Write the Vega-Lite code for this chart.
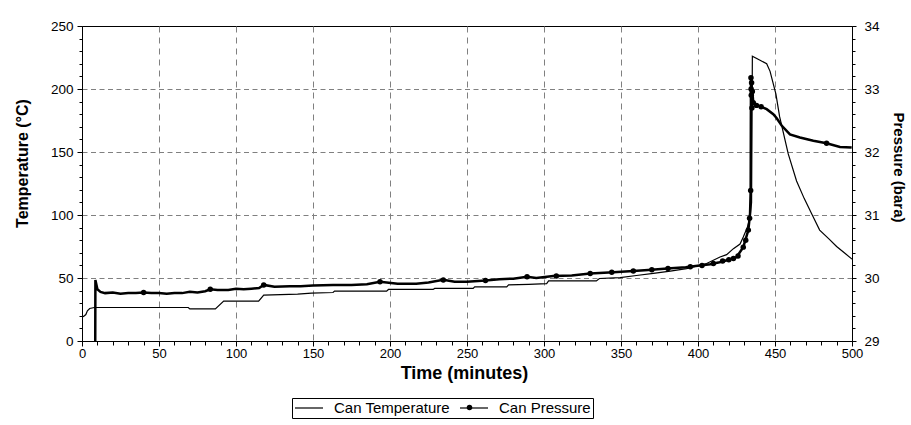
{
  "$schema": "https://vega.github.io/schema/vega-lite/v6.json",
  "width": 770,
  "height": 315,
  "autosize": {"type": "none"},
  "padding": {"left": 82, "top": 26, "right": 59, "bottom": 84},
  "background": "white",
  "config": {
    "view": {"stroke": "black", "strokeWidth": 1},
    "font": "Liberation Sans",
    "axis": {"domainColor": "black", "tickColor": "black", "labelColor": "black", "titleColor": "black", "labelFont": "Liberation Sans", "titleFont": "Liberation Sans"}
  },
  "datasets": {
    "temp": [
      {"time": 0, "temperature": 19}, {"time": 1, "temperature": 19.5}, {"time": 2.5, "temperature": 21}, {"time": 3.5, "temperature": 24}, {"time": 5, "temperature": 25.8}, {"time": 8, "temperature": 26.6}, {"time": 69, "temperature": 26.6}, {"time": 70, "temperature": 25.5}, {"time": 86.6, "temperature": 25.5}, {"time": 92, "temperature": 31.6}, {"time": 114.7, "temperature": 31.6}, {"time": 118, "temperature": 36.4}, {"time": 140, "temperature": 37.2}, {"time": 149, "temperature": 38}, {"time": 163, "temperature": 38.5}, {"time": 164, "temperature": 39.6}, {"time": 197.8, "temperature": 39.6}, {"time": 199, "temperature": 40.9}, {"time": 228, "temperature": 40.9}, {"time": 229, "temperature": 41.7}, {"time": 254, "temperature": 41.7}, {"time": 255, "temperature": 43}, {"time": 275.8, "temperature": 43}, {"time": 277, "temperature": 44.5}, {"time": 290, "temperature": 45}, {"time": 301.7, "temperature": 45.6}, {"time": 303, "temperature": 47.7}, {"time": 334, "temperature": 47.7}, {"time": 336, "temperature": 49.6}, {"time": 349.4, "temperature": 50.3}, {"time": 360, "temperature": 52}, {"time": 371, "temperature": 53.6}, {"time": 382, "temperature": 55.5}, {"time": 392.6, "temperature": 57.5}, {"time": 405.6, "temperature": 61.5}, {"time": 414.3, "temperature": 66.7}, {"time": 418.6, "temperature": 68.5}, {"time": 423, "temperature": 73.3}, {"time": 427.3, "temperature": 77}, {"time": 429.4, "temperature": 82.5}, {"time": 432, "temperature": 90}, {"time": 433.8, "temperature": 98.3}, {"time": 434.8, "temperature": 110}, {"time": 435.3, "temperature": 226}, {"time": 440, "temperature": 223}, {"time": 444.6, "temperature": 220}, {"time": 446.8, "temperature": 214}, {"time": 450.6, "temperature": 196}, {"time": 453, "temperature": 178}, {"time": 458.6, "temperature": 148.5}, {"time": 464, "temperature": 127}, {"time": 469, "temperature": 113}, {"time": 473.8, "temperature": 101}, {"time": 479, "temperature": 88}, {"time": 485, "temperature": 81}, {"time": 490, "temperature": 75}, {"time": 495, "temperature": 70}, {"time": 500, "temperature": 65}
    ],
    "pres": [
      {"time": 8.6, "pressure": 29.0}, {"time": 8.7, "pressure": 29.97}, {"time": 10, "pressure": 29.82}, {"time": 12, "pressure": 29.78}, {"time": 15, "pressure": 29.76}, {"time": 20, "pressure": 29.77}, {"time": 25, "pressure": 29.75}, {"time": 30, "pressure": 29.76}, {"time": 35, "pressure": 29.76}, {"time": 40, "pressure": 29.77}, {"time": 45, "pressure": 29.76}, {"time": 50, "pressure": 29.76}, {"time": 55, "pressure": 29.75}, {"time": 60, "pressure": 29.76}, {"time": 65, "pressure": 29.76}, {"time": 70, "pressure": 29.78}, {"time": 75, "pressure": 29.77}, {"time": 80, "pressure": 29.79}, {"time": 83.3, "pressure": 29.82}, {"time": 88, "pressure": 29.81}, {"time": 95, "pressure": 29.81}, {"time": 100, "pressure": 29.83}, {"time": 105, "pressure": 29.82}, {"time": 110, "pressure": 29.83}, {"time": 115, "pressure": 29.84}, {"time": 118, "pressure": 29.89}, {"time": 125, "pressure": 29.86}, {"time": 135, "pressure": 29.87}, {"time": 142, "pressure": 29.87}, {"time": 150, "pressure": 29.88}, {"time": 163, "pressure": 29.89}, {"time": 175, "pressure": 29.89}, {"time": 185, "pressure": 29.9}, {"time": 193.5, "pressure": 29.94}, {"time": 205, "pressure": 29.91}, {"time": 217, "pressure": 29.91}, {"time": 225, "pressure": 29.93}, {"time": 234.6, "pressure": 29.97}, {"time": 242, "pressure": 29.94}, {"time": 250, "pressure": 29.94}, {"time": 262, "pressure": 29.96}, {"time": 271, "pressure": 29.98}, {"time": 280, "pressure": 29.99}, {"time": 289, "pressure": 30.02}, {"time": 295, "pressure": 30.0}, {"time": 306, "pressure": 30.03}, {"time": 318, "pressure": 30.04}, {"time": 330, "pressure": 30.07}, {"time": 345, "pressure": 30.09}, {"time": 358, "pressure": 30.11}, {"time": 370, "pressure": 30.13}, {"time": 380, "pressure": 30.15}, {"time": 392, "pressure": 30.17}, {"time": 401, "pressure": 30.2}, {"time": 408, "pressure": 30.22}, {"time": 414, "pressure": 30.25}, {"time": 420, "pressure": 30.29}, {"time": 425, "pressure": 30.33}, {"time": 429.4, "pressure": 30.49}, {"time": 432.7, "pressure": 30.76}, {"time": 433.8, "pressure": 31.02}, {"time": 434.2, "pressure": 31.39}, {"time": 434.3, "pressure": 32.4}, {"time": 434.4, "pressure": 33.18}, {"time": 434.6, "pressure": 32.9}, {"time": 434.8, "pressure": 33.1}, {"time": 435, "pressure": 32.7}, {"time": 435.3, "pressure": 32.96}, {"time": 435.9, "pressure": 32.78}, {"time": 438, "pressure": 32.74}, {"time": 441, "pressure": 32.72}, {"time": 444.6, "pressure": 32.68}, {"time": 448.9, "pressure": 32.6}, {"time": 451, "pressure": 32.54}, {"time": 454.3, "pressure": 32.42}, {"time": 459.7, "pressure": 32.28}, {"time": 466.2, "pressure": 32.23}, {"time": 474.9, "pressure": 32.18}, {"time": 483.5, "pressure": 32.14}, {"time": 492.2, "pressure": 32.08}, {"time": 499.8, "pressure": 32.07}
    ],
    "presMarkers": [
      {"time": 40, "pressure": 29.77}, {"time": 83.3, "pressure": 29.82}, {"time": 118, "pressure": 29.89}, {"time": 193.5, "pressure": 29.94}, {"time": 234.6, "pressure": 29.97}, {"time": 262, "pressure": 29.96}, {"time": 289, "pressure": 30.02}, {"time": 308, "pressure": 30.03}, {"time": 330, "pressure": 30.07}, {"time": 344, "pressure": 30.09}, {"time": 358, "pressure": 30.11}, {"time": 370, "pressure": 30.13}, {"time": 380.5, "pressure": 30.15}, {"time": 395, "pressure": 30.18}, {"time": 402.6, "pressure": 30.2}, {"time": 410, "pressure": 30.23}, {"time": 416, "pressure": 30.27}, {"time": 420, "pressure": 30.29}, {"time": 423, "pressure": 30.31}, {"time": 426, "pressure": 30.35}, {"time": 429.4, "pressure": 30.49}, {"time": 431, "pressure": 30.6}, {"time": 432.7, "pressure": 30.76}, {"time": 433.5, "pressure": 30.95}, {"time": 434.2, "pressure": 31.39}, {"time": 434.4, "pressure": 33.18}, {"time": 434.5, "pressure": 33.0}, {"time": 434.6, "pressure": 32.9}, {"time": 434.8, "pressure": 33.1}, {"time": 435, "pressure": 32.7}, {"time": 435.3, "pressure": 32.96}, {"time": 435.9, "pressure": 32.78}, {"time": 438, "pressure": 32.74}, {"time": 441, "pressure": 32.72}, {"time": 483.5, "pressure": 32.14}
    ]
  },
  "encoding": {
    "x": {
      "field": "time", "type": "quantitative",
      "scale": {"domain": [0, 500], "nice": false},
      "axis": {
        "values": [0,10,20,30,40,50,60,70,80,90,100,110,120,130,140,150,160,170,180,190,200,210,220,230,240,250,260,270,280,290,300,310,320,330,340,350,360,370,380,390,400,410,420,430,440,450,460,470,480,490,500],
        "labelExpr": "datum.value % 50 === 0 ? format(datum.value, 'd') : ''",
        "labelOverlap": false, "labelFlush": false, "labelFontSize": 13, "labelPadding": 1,
        "tickSize": {"condition": {"test": "datum.value % 50 === 0", "value": 5}, "value": 4},
        "grid": true, "gridColor": "#808080", "gridDash": [6, 5], "gridWidth": 1,
        "gridOpacity": {"condition": {"test": "datum.value % 50 === 0 && datum.value > 0 && datum.value < 500", "value": 1}, "value": 0},
        "title": "Time (minutes)", "titleFontSize": 18, "titleFontWeight": "bold",
        "titleX": 382, "titleY": 37, "titleBaseline": "alphabetic", "titleAlign": "center"
      }
    }
  },
  "layer": [
    {
      "data": {"name": "temp"},
      "mark": {"type": "line", "strokeWidth": 1.2},
      "encoding": {
        "y": {
          "field": "temperature", "type": "quantitative",
          "scale": {"domain": [0, 250], "nice": false},
          "axis": {
            "orient": "left",
            "values": [0,10,20,30,40,50,60,70,80,90,100,110,120,130,140,150,160,170,180,190,200,210,220,230,240,250],
            "labelExpr": "datum.value % 50 === 0 ? format(datum.value, 'd') : ''",
            "labelOverlap": false, "labelFlush": false, "labelFontSize": 13.5, "labelPadding": 4,
            "tickSize": {"condition": {"test": "datum.value % 50 === 0", "value": 5}, "value": 3},
            "grid": true, "gridColor": "#808080", "gridDash": [5, 3.5], "gridWidth": 1,
            "gridOpacity": {"condition": {"test": "datum.value % 50 === 0 && datum.value > 0 && datum.value < 250", "value": 1}, "value": 0},
            "title": "Temperature (°C)", "titleFontSize": 16, "titleFontWeight": "bold",
            "titleAngle": -90, "titleX": -60, "titleY": 137, "titleBaseline": "middle", "titleAlign": "center"
          }
        },
        "color": {
          "datum": "Can Temperature",
          "scale": {"domain": ["Can Temperature", "Can Pressure"], "range": ["black", "black"]},
          "legend": {
            "orient": "none", "legendX": 210, "legendY": 372, "direction": "horizontal",
            "columns": 2, "gridAlign": "all", "columnPadding": 7,
            "title": null, "strokeColor": "black", "fillColor": "white", "padding": 2,
            "labelFontSize": 15, "labelFont": "Liberation Sans", "labelColor": "black", "labelOffset": 17,
            "symbolType": "M-2,0H2", "symbolSize": 196, "symbolOffset": 7, "symbolStrokeWidth": 1.2,
            "symbolStrokeColor": "black"
          }
        }
      }
    },
    {
      "data": {"name": "pres"},
      "mark": {"type": "line", "strokeWidth": 2.5},
      "encoding": {
        "y": {
          "field": "pressure", "type": "quantitative",
          "scale": {"domain": [29, 34], "nice": false},
          "axis": {
            "orient": "right",
            "values": [29,29.2,29.4,29.6,29.8,30,30.2,30.4,30.6,30.8,31,31.2,31.4,31.6,31.8,32,32.2,32.4,32.6,32.8,33,33.2,33.4,33.6,33.8,34],
            "labelExpr": "abs(datum.value - round(datum.value)) < 0.001 ? format(datum.value, 'd') : ''",
            "labelOverlap": false, "labelFlush": false, "labelFontSize": 13.5, "labelPadding": 8,
            "tickSize": {"condition": {"test": "abs(datum.value - round(datum.value)) < 0.001", "value": 4}, "value": 3},
            "grid": false,
            "title": "Pressure (bara)", "titleFontSize": 15, "titleFontWeight": "bold",
            "titleAngle": 90, "titleX": 46, "titleY": 141, "titleBaseline": "middle", "titleAlign": "center"
          }
        },
        "color": {"datum": "Can Pressure"}
      }
    },
    {
      "data": {"name": "presMarkers"},
      "mark": {"type": "point", "filled": true, "size": 30, "opacity": 1, "color": "black"},
      "encoding": {
        "y": {"field": "pressure", "type": "quantitative", "scale": {"domain": [29, 34], "nice": false}, "axis": null},
        "shape": {
          "datum": "Can Pressure",
          "scale": {"range": ["circle"]},
          "legend": {
            "orient": "none", "legendX": 380, "legendY": 374, "title": null,
            "padding": 0, "symbolSize": 30, "symbolFillColor": "black", "symbolStrokeColor": "black", "symbolStrokeWidth": 0,
            "labelExpr": "''", "labelFontSize": 15
          }
        }
      }
    }
  ],
  "resolve": {"scale": {"y": "independent"}}
}
